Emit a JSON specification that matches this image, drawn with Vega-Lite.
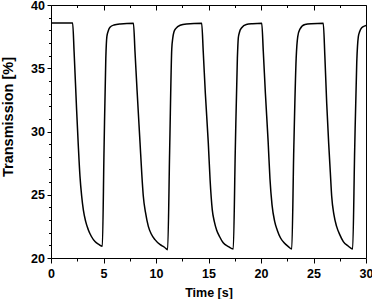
{
  "$schema": "https://vega.github.io/schema/vega-lite/v6.json",
  "width": 315,
  "height": 253,
  "autosize": "none",
  "padding": {"left": 51, "top": 5, "right": 6, "bottom": 41},
  "background": "white",
  "config": {
    "view": {"stroke": null},
    "axis": {
      "grid": false,
      "domainColor": "black",
      "domainWidth": 1,
      "tickColor": "black",
      "tickWidth": 1,
      "labelFont": "Liberation Sans",
      "labelFontWeight": "bold",
      "labelFontSize": 12.5,
      "labelColor": "black",
      "titleFont": "Liberation Sans",
      "titleFontWeight": "bold",
      "titleColor": "black"
    }
  },
  "data": {
    "values": [
      {"t": 0, "v": 38.58}, {"t": 1, "v": 38.58}, {"t": 2.06, "v": 38.58}, {"t": 2.2, "v": 36.3}, {"t": 2.44, "v": 31.7}, {"t": 2.6, "v": 28.9}, {"t": 2.76, "v": 26.45}, {"t": 2.92, "v": 24.9}, {"t": 3.08, "v": 23.8}, {"t": 3.3, "v": 22.9}, {"t": 3.55, "v": 22.24}, {"t": 3.85, "v": 21.7}, {"t": 4.19, "v": 21.3}, {"t": 4.55, "v": 21.08}, {"t": 4.89, "v": 20.92},
      {"t": 5.05, "v": 28.5}, {"t": 5.22, "v": 35.8}, {"t": 5.32, "v": 37.5}, {"t": 5.45, "v": 37.95}, {"t": 5.62, "v": 38.25}, {"t": 6.0, "v": 38.42}, {"t": 6.6, "v": 38.5}, {"t": 7.85, "v": 38.55},
      {"t": 8.0, "v": 36.3}, {"t": 8.2, "v": 33.2}, {"t": 8.48, "v": 29.1}, {"t": 8.65, "v": 26.6}, {"t": 8.79, "v": 24.9}, {"t": 9.0, "v": 23.6}, {"t": 9.27, "v": 22.5}, {"t": 9.55, "v": 21.9}, {"t": 9.9, "v": 21.45}, {"t": 10.4, "v": 21.05}, {"t": 10.8, "v": 20.85}, {"t": 11.11, "v": 20.66},
      {"t": 11.3, "v": 28.5}, {"t": 11.5, "v": 36.5}, {"t": 11.6, "v": 37.4}, {"t": 11.7, "v": 37.85}, {"t": 11.9, "v": 38.15}, {"t": 12.3, "v": 38.4}, {"t": 12.9, "v": 38.5}, {"t": 14.35, "v": 38.55},
      {"t": 14.5, "v": 36.3}, {"t": 14.7, "v": 33.0}, {"t": 14.98, "v": 29.1}, {"t": 15.15, "v": 26.2}, {"t": 15.36, "v": 23.8}, {"t": 15.55, "v": 22.9}, {"t": 15.78, "v": 22.2}, {"t": 16.05, "v": 21.7}, {"t": 16.4, "v": 21.2}, {"t": 16.9, "v": 20.9}, {"t": 17.36, "v": 20.71},
      {"t": 17.55, "v": 28.5}, {"t": 17.75, "v": 35.8}, {"t": 17.84, "v": 37.4}, {"t": 17.95, "v": 37.85}, {"t": 18.16, "v": 38.2}, {"t": 18.6, "v": 38.46}, {"t": 19.2, "v": 38.52}, {"t": 20.07, "v": 38.55},
      {"t": 20.22, "v": 36.3}, {"t": 20.42, "v": 33.0}, {"t": 20.68, "v": 29.2}, {"t": 20.85, "v": 26.3}, {"t": 21.05, "v": 24.2}, {"t": 21.3, "v": 22.9}, {"t": 21.55, "v": 22.2}, {"t": 21.85, "v": 21.6}, {"t": 22.2, "v": 21.2}, {"t": 22.6, "v": 20.9}, {"t": 22.93, "v": 20.71},
      {"t": 23.12, "v": 28.5}, {"t": 23.35, "v": 35.8}, {"t": 23.5, "v": 37.5}, {"t": 23.71, "v": 38.1}, {"t": 24.19, "v": 38.46}, {"t": 24.8, "v": 38.52}, {"t": 25.93, "v": 38.55},
      {"t": 26.08, "v": 36.0}, {"t": 26.26, "v": 32.2}, {"t": 26.45, "v": 29.0}, {"t": 26.6, "v": 26.8}, {"t": 26.73, "v": 24.9}, {"t": 26.95, "v": 23.4}, {"t": 27.2, "v": 22.5}, {"t": 27.5, "v": 21.85}, {"t": 27.84, "v": 21.3}, {"t": 28.3, "v": 20.95}, {"t": 28.73, "v": 20.71},
      {"t": 28.92, "v": 28.5}, {"t": 29.12, "v": 35.5}, {"t": 29.27, "v": 37.5}, {"t": 29.4, "v": 37.9}, {"t": 29.59, "v": 38.2}, {"t": 29.9, "v": 38.35}, {"t": 30.0, "v": 38.38}
    ]
  },
  "layer": [
    {
      "mark": {"type": "line", "color": "black", "strokeWidth": 1.5, "interpolate": "monotone", "clip": true},
      "encoding": {
        "x": {
          "field": "t", "type": "quantitative",
          "scale": {"domain": [0, 30], "nice": false, "zero": false},
          "axis": {
            "orient": "bottom",
            "title": "Time [s]",
            "titleFontSize": 12.5,
            "titleY": 38,
            "titleBaseline": "alphabetic",
            "values": [0, 2.5, 5, 7.5, 10, 12.5, 15, 17.5, 20, 22.5, 25, 27.5, 30],
            "labelExpr": "datum.value % 5 === 0 ? format(datum.value, 'd') : ''",
            "tickSize": {"condition": {"test": "datum.value % 5 === 0", "value": 5}, "value": 3},
            "labelPadding": 4,
            "labelFlush": false,
            "labelOverlap": false
          }
        },
        "y": {
          "field": "v", "type": "quantitative",
          "scale": {"domain": [20, 40], "nice": false, "zero": false},
          "axis": {
            "orient": "left",
            "title": "Transmission [%]",
            "titleFontSize": 14.5,
            "titleAngle": -90,
            "titleX": -39,
            "titleY": 111.5,
            "titleAlign": "center",
            "titleBaseline": "alphabetic",
            "values": [20, 21, 22, 23, 24, 25, 26, 27, 28, 29, 30, 31, 32, 33, 34, 35, 36, 37, 38, 39, 40],
            "labelExpr": "datum.value % 5 === 0 ? format(datum.value, 'd') : ''",
            "tickSize": {"condition": {"test": "datum.value % 5 === 0", "value": 4}, "value": 2.5},
            "labelPadding": 2.5,
            "labelFlush": false,
            "labelOverlap": false
          }
        }
      }
    },
    {
      "mark": {"type": "line", "opacity": 0},
      "encoding": {
        "x": {
          "field": "t", "type": "quantitative",
          "scale": {"domain": [0, 30], "nice": false, "zero": false},
          "axis": {
            "orient": "top",
            "title": null,
            "labels": false,
            "values": [0, 2.5, 5, 7.5, 10, 12.5, 15, 17.5, 20, 22.5, 25, 27.5, 30],
            "tickSize": {"condition": {"test": "datum.value % 5 === 0", "value": -5}, "value": -2.5}
          }
        },
        "y": {
          "field": "v", "type": "quantitative",
          "scale": {"domain": [20, 40], "nice": false, "zero": false},
          "axis": {
            "orient": "right",
            "title": null,
            "labels": false,
            "ticks": false
          }
        }
      }
    }
  ],
  "resolve": {"axis": {"x": "independent", "y": "independent"}}
}
